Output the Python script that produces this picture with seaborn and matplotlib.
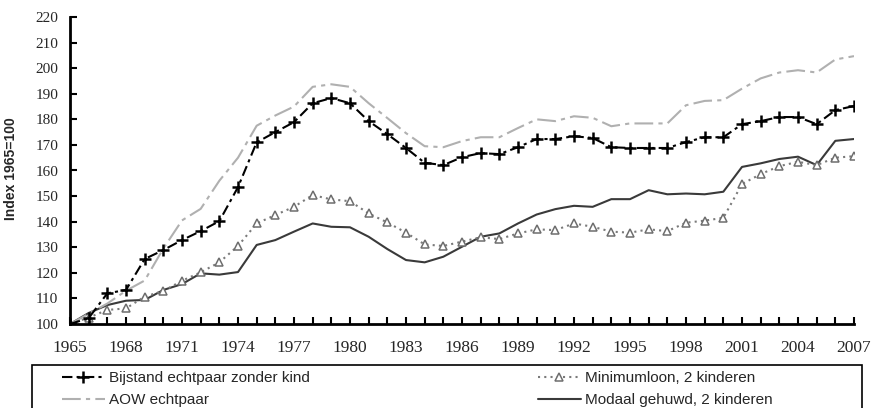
import matplotlib
matplotlib.use("Agg")
import matplotlib.pyplot as plt
from matplotlib.patches import Rectangle
from matplotlib.ticker import MultipleLocator
import seaborn as sns

# Index 1965=100, yearly values
years = list(range(1965, 2008))

bijstand = [100, 102.3, 112, 113.3, 125.4, 128.9, 132.8, 136.3, 140.2, 153.5,
            171, 175, 178.9, 186.3, 188.3, 186.3, 179.3, 174.2, 168.8, 163,
            162.1, 165.2, 166.8, 166.4, 169.1, 172.3, 172.3, 173.4, 172.7, 169.1,
            168.8, 168.8, 168.8, 171.1, 173, 173, 178.1, 179.3, 180.9, 180.9,
            178.1, 183.6, 185.2]

aow = [100, 104, 108, 113, 117, 129.5, 140.5, 145, 156, 165,
       177.5, 181.5, 185, 192.7, 193.7, 192.7, 186.3, 180.5, 174.6, 169.5,
       169.1, 171.5, 173, 173, 176.6, 180, 179.3, 181.2, 180.6, 177.3,
       178.4, 178.4, 178.4, 185.5, 187.2, 187.5, 192, 196, 198.3, 199.2,
       198.3, 203.4, 204.7]

minimumloon = [100, 102.5, 105.5, 106.1, 110.7, 112.9, 116.9, 120.2, 124.1, 130.5,
               139.3, 142.6, 145.8, 150.4, 148.7, 148, 143.2, 139.7, 135.7, 131.1,
               130.5, 132.2, 133.9, 133.2, 135.4, 137, 136.7, 139.3, 138, 136.1,
               135.7, 137, 136.3, 139.6, 140.4, 141.5, 154.7, 158.6, 161.7, 163.4,
               162.1, 165, 165.6]

modaal = [100, 104.3, 107.4, 109.1, 109.4, 113.3, 115.6, 119.8, 119.3, 120.3,
          130.9, 132.8, 136.1, 139.3, 138, 137.8, 134.1, 129.3, 125, 124.1,
          126.3, 130.2, 134.1, 135.4, 139.3, 142.8, 144.9, 146.2, 145.8, 148.8,
          148.8, 152.3, 150.7, 151, 150.7, 151.7, 161.4, 162.8, 164.5, 165.4,
          162.1, 171.6, 172.3]

labels = ["Bijstand echtpaar zonder kind", "AOW echtpaar",
          "Minimumloon, 2 kinderen", "Modaal gehuwd, 2 kinderen"]

sns.set_theme(style="ticks")
plt.rcParams['font.family'] = ['Liberation Sans', 'DejaVu Sans']

fig = plt.figure(figsize=(8.76, 4.08), dpi=100)
ax = fig.add_axes([70 / 876, 1 - 324 / 408, 784 / 876, 307 / 408])

sns.lineplot(x=years, y=modaal, ax=ax, color="#3a3a3a", linewidth=1.5,
             label=labels[3])
sns.lineplot(x=years, y=aow, ax=ax, color="#b0b0b0", linewidth=1.5,
             linestyle=(0, (9, 2.5, 2, 2.5)), label=labels[1])
sns.lineplot(x=years, y=minimumloon, ax=ax, color="#7a7a7a", linewidth=1.5,
             linestyle=(0, (1, 2)), marker="^", markersize=6,
             markerfacecolor="white", markeredgecolor="#6e6e6e",
             markeredgewidth=1.1, label=labels[2])
sns.lineplot(x=years, y=bijstand, ax=ax, color="black", linewidth=1.5,
             linestyle=(0, (5, 2, 1.5, 2)), marker="+", markersize=9,
             markeredgecolor="black", markeredgewidth=1.8, label=labels[0])

ax.set_xlim(1965, 2007)
ax.set_ylim(100, 220)
ax.xaxis.set_major_locator(MultipleLocator(3))
ax.xaxis.set_minor_locator(MultipleLocator(1))
ax.yaxis.set_major_locator(MultipleLocator(10))
ax.tick_params(axis="both", which="both", direction="in", length=5,
               width=1.5, color="black")
ax.tick_params(axis="x", pad=11.5)
ax.tick_params(axis="y", pad=8.5)
for t in ax.get_xticklabels():
    t.set_fontfamily("Liberation Serif")
    t.set_fontsize(12.5)
for t in ax.get_yticklabels():
    t.set_fontfamily("Liberation Serif")
    t.set_fontsize(11)
for side in ["top", "right"]:
    ax.spines[side].set_visible(False)
for side in ["left", "bottom"]:
    ax.spines[side].set_linewidth(2)
    ax.spines[side].set_color("black")
ax.set_xlabel("")
ax.set_ylabel("")
ax.grid(False)

fig.text(0.0125, 0.586, "Index 1965=100", rotation=90, ha="center",
         va="center", fontsize=10, fontweight="bold")

# legend: box plus two columns
handles, labs = ax.get_legend_handles_labels()
ax.get_legend().remove()
hmap = dict(zip(labs, handles))
fig.patches.append(Rectangle((32 / 876, -0.02), 830 / 876, 1 - 365 / 408 + 0.02,
                             transform=fig.transFigure, fill=False,
                             edgecolor="black", linewidth=1.2))
leg_kw = dict(loc="upper left", frameon=False, fontsize=11, borderpad=0,
              borderaxespad=0, handlelength=2.8, handletextpad=0.25,
              labelspacing=0.55)
fig.legend([hmap[labels[0]], hmap[labels[1]]], labels[:2],
           bbox_to_anchor=(62 / 876, 1 - 371 / 408), **leg_kw)
fig.legend([hmap[labels[2]], hmap[labels[3]]], labels[2:],
           bbox_to_anchor=(538 / 876, 1 - 371 / 408), **leg_kw)

fig.savefig("out.png", dpi=100)
